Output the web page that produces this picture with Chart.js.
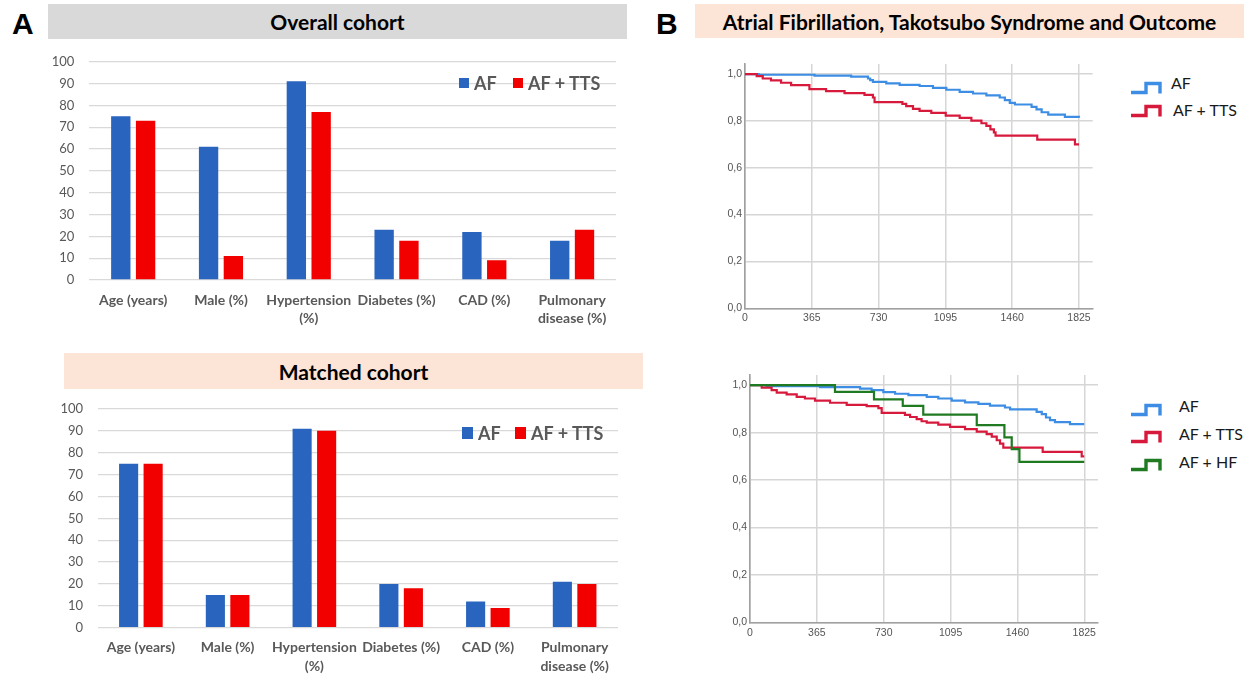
<!DOCTYPE html>
<html>
<head>
<meta charset="utf-8">
<script src="https://cdn.jsdelivr.net/npm/chart.js@4.4.0/dist/chart.umd.min.js"></script>
<style>
  body { margin: 0; background: #fff; }
  #page { position: relative; width: 1244px; height: 674px; overflow: hidden; font-family: Lato, sans-serif; }
  .box { position: absolute; }
  .panel { position: absolute; font-family: 'Liberation Sans', Arial, sans-serif; font-weight: bold; font-size: 30px; line-height: 30px; color: #000; }
  .head { position: absolute; text-align: center; font-weight: bold; color: #000; }
  .sw { position: absolute; }
  .lg { position: absolute; font-weight: bold; font-size: 18px; line-height: 20px; color: #595959; white-space: nowrap; }
  .kmlg { position: absolute; font-size: 16px; line-height: 20px; color: #1a1a1a; white-space: nowrap; }
  .icon { position: absolute; }
</style>
</head>
<body>
<div id="page">
  <div class="panel" style="left:12px; top:9px;">A</div>
  <div class="panel" style="left:656px; top:9px;">B</div>

  <div class="head" style="left:48px; top:4px; width:579px; height:35px; line-height:36px; font-size:21px; background:#D9D9D9;">Overall cohort</div>
  <div class="head" style="left:64px; top:353px; width:579px; height:36px; line-height:38px; font-size:21px; background:#FCE4D6;">Matched cohort</div>
  <div class="head" style="left:695px; top:4px; width:549px; height:34px; line-height:35px; font-size:21px; background:#FCE4D6;">Atrial Fibrillation, Takotsubo Syndrome and Outcome</div>

  <div class="box" style="left:40px; top:50px; width:590px; height:280px;"><canvas id="overallChart"></canvas></div>
  <div class="box" style="left:40px; top:395px; width:600px; height:279px;"><canvas id="matchedChart"></canvas></div>
  <div class="box" style="left:700px; top:55px; width:410px; height:280px;"><canvas id="kmChart1"></canvas></div>
  <div class="box" style="left:705px; top:365px; width:410px; height:280px;"><canvas id="kmChart2"></canvas></div>

  <!-- bar chart legends -->
  <div class="sw" style="left:459px; top:78px; width:10px; height:10px; background:#2965BF;"></div>
  <div class="lg" style="left:474px; top:73px;">AF</div>
  <div class="sw" style="left:513px; top:78px; width:10px; height:10px; background:#F20000;"></div>
  <div class="lg" style="left:528px; top:73px;">AF + TTS</div>

  <div class="sw" style="left:462px; top:427px; width:11px; height:12px; background:#2965BF;"></div>
  <div class="lg" style="left:478px; top:423px;">AF</div>
  <div class="sw" style="left:515px; top:427px; width:11px; height:12px; background:#F20000;"></div>
  <div class="lg" style="left:531px; top:423px;">AF + TTS</div>

  <!-- KM legends -->
  <div id="kmLegend1"></div>
  <div id="kmLegend2"></div>
</div>

<script>
// bar charts
const barCategories = [["Age (years)"], ["Male (%)"], ["Hypertension", "(%)"], ["Diabetes (%)"], ["CAD (%)"], ["Pulmonary", "disease (%)"]];
const overallAF = [75, 61, 91, 23, 22, 18];
const overallTTS = [73, 11, 77, 18, 9, 23];
const matchedAF = [75, 15, 91, 20, 12, 21];
const matchedTTS = [75, 15, 90, 18, 9, 20];

// Kaplan-Meier curves (days, survival)
const kmDayTicks = [0, 365, 730, 1095, 1460, 1825];
const kmSurvTicks = [0, 0.2, 0.4, 0.6, 0.8, 1.0];

const km1AfDays = [0, 75, 380, 580, 672, 684, 699, 772, 845, 954, 1027, 1100, 1173, 1246, 1319, 1392, 1420, 1447, 1475, 1566, 1593, 1621, 1657, 1748, 1825];
const km1AfSurv = [1.0, 0.997, 0.993, 0.989, 0.981, 0.974, 0.967, 0.960, 0.954, 0.949, 0.941, 0.933, 0.924, 0.917, 0.909, 0.900, 0.889, 0.877, 0.870, 0.860, 0.849, 0.837, 0.827, 0.817, 0.813];
const km1TtsDays = [0, 64, 97, 142, 197, 252, 352, 443, 544, 653, 699, 708, 860, 881, 918, 954, 1018, 1097, 1173, 1237, 1292, 1319, 1341, 1360, 1369, 1597, 1803, 1825];
const km1TtsSurv = [1.0, 0.991, 0.981, 0.973, 0.963, 0.953, 0.936, 0.927, 0.919, 0.911, 0.900, 0.880, 0.873, 0.863, 0.851, 0.843, 0.834, 0.823, 0.813, 0.801, 0.790, 0.779, 0.764, 0.751, 0.737, 0.720, 0.700, 0.700];

const km2AfDays = [0, 91, 382, 601, 664, 728, 792, 865, 965, 1028, 1101, 1174, 1247, 1310, 1392, 1420, 1565, 1593, 1616, 1638, 1665, 1747, 1825];
const km2AfSurv = [1.0, 0.996, 0.992, 0.986, 0.979, 0.971, 0.964, 0.958, 0.951, 0.944, 0.935, 0.928, 0.921, 0.914, 0.906, 0.898, 0.888, 0.878, 0.864, 0.853, 0.844, 0.836, 0.836];
const km2TtsDays = [0, 64, 118, 146, 200, 255, 300, 355, 437, 528, 637, 701, 719, 846, 874, 910, 937, 965, 1028, 1092, 1174, 1238, 1292, 1320, 1347, 1365, 1383, 1598, 1811, 1825];
const km2TtsSurv = [1.0, 0.990, 0.979, 0.969, 0.961, 0.951, 0.944, 0.935, 0.926, 0.917, 0.912, 0.903, 0.883, 0.875, 0.866, 0.857, 0.848, 0.842, 0.834, 0.824, 0.815, 0.804, 0.794, 0.783, 0.768, 0.754, 0.737, 0.719, 0.700, 0.700];
const km2HfDays = [0, 464, 677, 834, 946, 1238, 1389, 1429, 1471, 1825];
const km2HfSurv = [1.0, 0.972, 0.940, 0.913, 0.876, 0.832, 0.780, 0.731, 0.677, 0.677];

const barBlue = "#2965BF";
const barRed = "#F20000";
const kmBlue = "#3C8DE3";
const kmRed = "#D7193C";
const kmGreen = "#1F7A22";
const kmFont = "'Liberation Sans Narrow', 'Liberation Sans', Arial, sans-serif";

function makeBarChart(id, afData, ttsData, o) {
  new Chart(document.getElementById(id), {
    type: "bar",
    data: {
      labels: barCategories,
      datasets: [
        { label: "AF", data: afData, backgroundColor: barBlue, categoryPercentage: 0.565, barPercentage: 0.78 },
        { label: "AF + TTS", data: ttsData, backgroundColor: barRed, categoryPercentage: 0.565, barPercentage: 0.78 }
      ]
    },
    options: {
      responsive: true,
      maintainAspectRatio: false,
      animation: false,
      layout: { padding: o.padding },
      plugins: { legend: { display: false }, tooltip: { enabled: false } },
      scales: {
        x: {
          grid: { display: false, drawTicks: false },
          border: { display: false },
          ticks: {
            color: "#595959",
            font: { family: "Lato", size: 14, weight: "bold", lineHeight: 1.3 },
            padding: o.xPad,
            maxRotation: 0,
            autoSkip: false
          },
          afterFit: (axis) => { axis.height = o.xHeight; }
        },
        y: {
          min: 0,
          max: 100,
          ticks: { stepSize: 10, color: "#595959", font: { family: "Lato", size: 13 }, padding: o.yPad },
          grid: { color: "#D9D9D9", lineWidth: 1.3, drawTicks: false },
          border: { display: false },
          afterFit: (axis) => {
            axis.width = o.yWidth;
            // keep the plot top where the layout padding puts it
            axis.paddingTop = 0;
            axis.paddingBottom = 0;
          }
        }
      }
    }
  });
}

function makeKmChart(id, series, o) {
  new Chart(document.getElementById(id), {
    type: "line",
    data: {
      datasets: series.map(s => ({
        label: s.label,
        data: s.days.map((d, i) => ({ x: d, y: s.surv[i] })),
        borderColor: s.color,
        borderWidth: 2.2,
        pointRadius: 0,
        stepped: true,
        fill: false,
        order: s.order
      }))
    },
    options: {
      responsive: true,
      maintainAspectRatio: false,
      animation: false,
      layout: { padding: o.padding },
      plugins: { legend: { display: false }, tooltip: { enabled: false } },
      scales: {
        x: {
          type: "linear",
          min: 0,
          max: 1900,
          afterBuildTicks: (axis) => { axis.ticks = kmDayTicks.map(v => ({ value: v })); },
          ticks: { color: "#555", font: { family: kmFont, size: 10.5 }, padding: 4, maxRotation: 0, autoSkip: false, callback: (v) => String(v) },
          grid: { color: "#D6D6D6", lineWidth: 1.5, drawTicks: false },
          border: { color: "#A0A0A0", width: 1.6 },
          afterFit: (axis) => { axis.height = o.xHeight; }
        },
        y: {
          min: 0,
          max: 1.043,
          afterBuildTicks: (axis) => { axis.ticks = kmSurvTicks.map(v => ({ value: v })); },
          ticks: { color: "#555", font: { family: kmFont, size: 10.5 }, padding: 3, callback: (v) => v.toFixed(1).replace(".", ",") },
          grid: { color: "#D6D6D6", lineWidth: 1.5, drawTicks: false },
          border: { color: "#A0A0A0", width: 1.6 },
          afterFit: (axis) => { axis.width = 45; axis.paddingTop = 0; axis.paddingBottom = 0; }
        }
      }
    }
  });
}

function stepIcon(color) {
  return '<svg width="32" height="14" viewBox="0 0 32 14"><path d="M1 11.5 H16 V2.5 H30 V12.5" fill="none" stroke="' + color +
    '" stroke-width="3.4" stroke-linejoin="miter"/></svg>';
}

function kmLegend(id, items) {
  const el = document.getElementById(id);
  el.innerHTML = items.map(it =>
    '<div class="icon" style="left:' + it.iconX + 'px; top:' + it.iconY + 'px;">' + stepIcon(it.color) + '</div>' +
    '<div class="kmlg" style="left:' + it.textX + 'px; top:' + (it.textY - 10) + 'px;">' + it.label + '</div>'
  ).join("");
}

makeBarChart("overallChart", overallAF, overallTTS, {
  padding: { top: 11.7, right: 14, bottom: 0, left: 0 }, yWidth: 49.3, yPad: 15, xHeight: 50, xPad: 11
});
makeBarChart("matchedChart", matchedAF, matchedTTS, {
  padding: { top: 14, right: 22, bottom: 0, left: 0 }, yWidth: 57.5, yPad: 14.4, xHeight: 46.3, xPad: 11
});

makeKmChart("kmChart1", [
  { label: "AF", days: km1AfDays, surv: km1AfSurv, color: kmBlue, order: 1 },
  { label: "AF + TTS", days: km1TtsDays, surv: km1TtsSurv, color: kmRed, order: 0 }
], { padding: { top: 9, right: 17.3, bottom: 0, left: 0 }, xHeight: 26.7 });

makeKmChart("kmChart2", [
  { label: "AF", days: km2AfDays, surv: km2AfSurv, color: kmBlue, order: 2 },
  { label: "AF + TTS", days: km2TtsDays, surv: km2TtsSurv, color: kmRed, order: 1 },
  { label: "AF + HF", days: km2HfDays, surv: km2HfSurv, color: kmGreen, order: 0 }
], { padding: { top: 10, right: 17, bottom: 0, left: 0 }, xHeight: 22.5 });

kmLegend("kmLegend1", [
  { label: "AF", color: kmBlue, iconX: 1130, iconY: 79, textX: 1171, textY: 83 },
  { label: "AF + TTS", color: kmRed, iconX: 1130, iconY: 102, textX: 1173, textY: 110 }
]);
kmLegend("kmLegend2", [
  { label: "AF", color: kmBlue, iconX: 1130, iconY: 401, textX: 1179, textY: 406 },
  { label: "AF + TTS", color: kmRed, iconX: 1130, iconY: 428, textX: 1179, textY: 434 },
  { label: "AF + HF", color: kmGreen, iconX: 1130, iconY: 456, textX: 1179, textY: 462 }
]);
</script>
</body>
</html>
